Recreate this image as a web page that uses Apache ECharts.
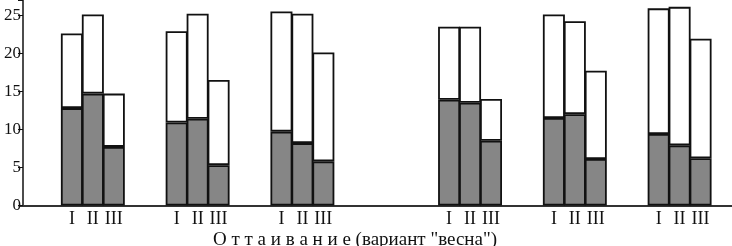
<!DOCTYPE html>
<html>
<head>
<meta charset="utf-8">
<script src="https://cdn.jsdelivr.net/npm/echarts@6/dist/echarts.min.js"></script>
<style>
  html, body { margin: 0; padding: 0; background: #fff; }
  #chart { width: 732px; height: 246px; }
</style>
</head>
<body>
<div id="chart"></div>
<script>
// подписи столбиков внутри группы
var barNames = ['I', 'II', 'III'];

// нижняя (серая) часть столбиков, по группам
var lowerG1 = [12.8, 14.7, 7.7];
var lowerG2 = [10.9, 11.4, 5.3];
var lowerG3 = [9.7, 8.2, 5.8];
var lowerG4 = [13.9, 13.5, 8.5];
var lowerG5 = [11.5, 12.0, 6.1];
var lowerG6 = [9.4, 7.9, 6.2];

// полная высота столбиков, по группам
var totalG1 = [22.6, 25.1, 14.7];
var totalG2 = [22.9, 25.2, 16.5];
var totalG3 = [25.5, 25.2, 20.1];
var totalG4 = [23.5, 23.5, 14.0];
var totalG5 = [25.1, 24.2, 17.7];
var totalG6 = [25.9, 26.1, 21.9];

var yTicks = [0, 5, 10, 15, 20, 25];
var xTitle = 'О т т а и в а н и е (вариант "весна")';

var lowerGroups = [lowerG1, lowerG2, lowerG3, lowerG4, lowerG5, lowerG6];
var totalGroups = [totalG1, totalG2, totalG3, totalG4, totalG5, totalG6];

/**
 * пустые позиции перед группой / после последней
 */
var gapsBefore = [2, 2, 2, 5, 2, 2];
var gapAfter = 1;

var categories = [];
var lowerData = [];
var upperData = [];

function pushGap(n) {
	for (var k = 0; k < n; k++) {
		categories.push('');
		lowerData.push('-');
		upperData.push('-');
	}
}

for (var g = 0; g < lowerGroups.length; g++) {
	pushGap(gapsBefore[g]);
	for (var i = 0; i < barNames.length; i++) {
		categories.push(barNames[i]);
		lowerData.push(lowerGroups[g][i]);
		upperData.push(+(totalGroups[g][i] - lowerGroups[g][i]).toFixed(2));
	}
}
pushGap(gapAfter);

var serif = '"Liberation Serif", "DejaVu Serif", serif';

var myChart = echarts.init(document.getElementById('chart'), null, { renderer: 'canvas' });
var option = {
	animation: false,
	title: {
		text: xTitle,
		left: 208,
		top: 226,
		textStyle: { fontFamily: serif, fontSize: 19, fontWeight: 'normal', color: '#111' }
	},
	grid: { left: 19.5, right: 0, top: 0, bottom: 40.5, containLabel: false },
	xAxis: {
		type: 'category',
		data: categories,
		boundaryGap: true,
		axisLine: { show: true, lineStyle: { color: '#333', width: 2 } },
		axisTick: { show: false },
		axisLabel: {
			interval: 0,
			margin: 5,
			fontFamily: serif,
			fontSize: 18,
			color: '#111'
		},
		splitLine: { show: false }
	},
	yAxis: {
		type: 'value',
		min: 0,
		max: 27,
		interval: 5,
		offset: -3.5,
		axisLine: { show: true, lineStyle: { color: '#111', width: 1.5 } },
		axisTick: { show: true, length: 5, lineStyle: { color: '#111' } },
		axisLabel: {
			margin: 2,
			fontFamily: serif,
			fontSize: 17,
			color: '#111',
			formatter: function (v) { return yTicks.indexOf(v) >= 0 ? String(v) : ''; }
		},
		splitLine: { show: false }
	},
	series: [
		{
			name: 'lower',
			type: 'bar',
			stack: 'total',
			data: lowerData,
			barWidth: 22,
			itemStyle: { color: '#868686', borderColor: '#111', borderWidth: 1.8 }
		},
		{
			name: 'upper',
			type: 'bar',
			stack: 'total',
			data: upperData,
			barWidth: 22,
			itemStyle: { color: '#fff', borderColor: '#111', borderWidth: 1.8 }
		}
	]
};
myChart.setOption(option);
</script>
</body>
</html>
